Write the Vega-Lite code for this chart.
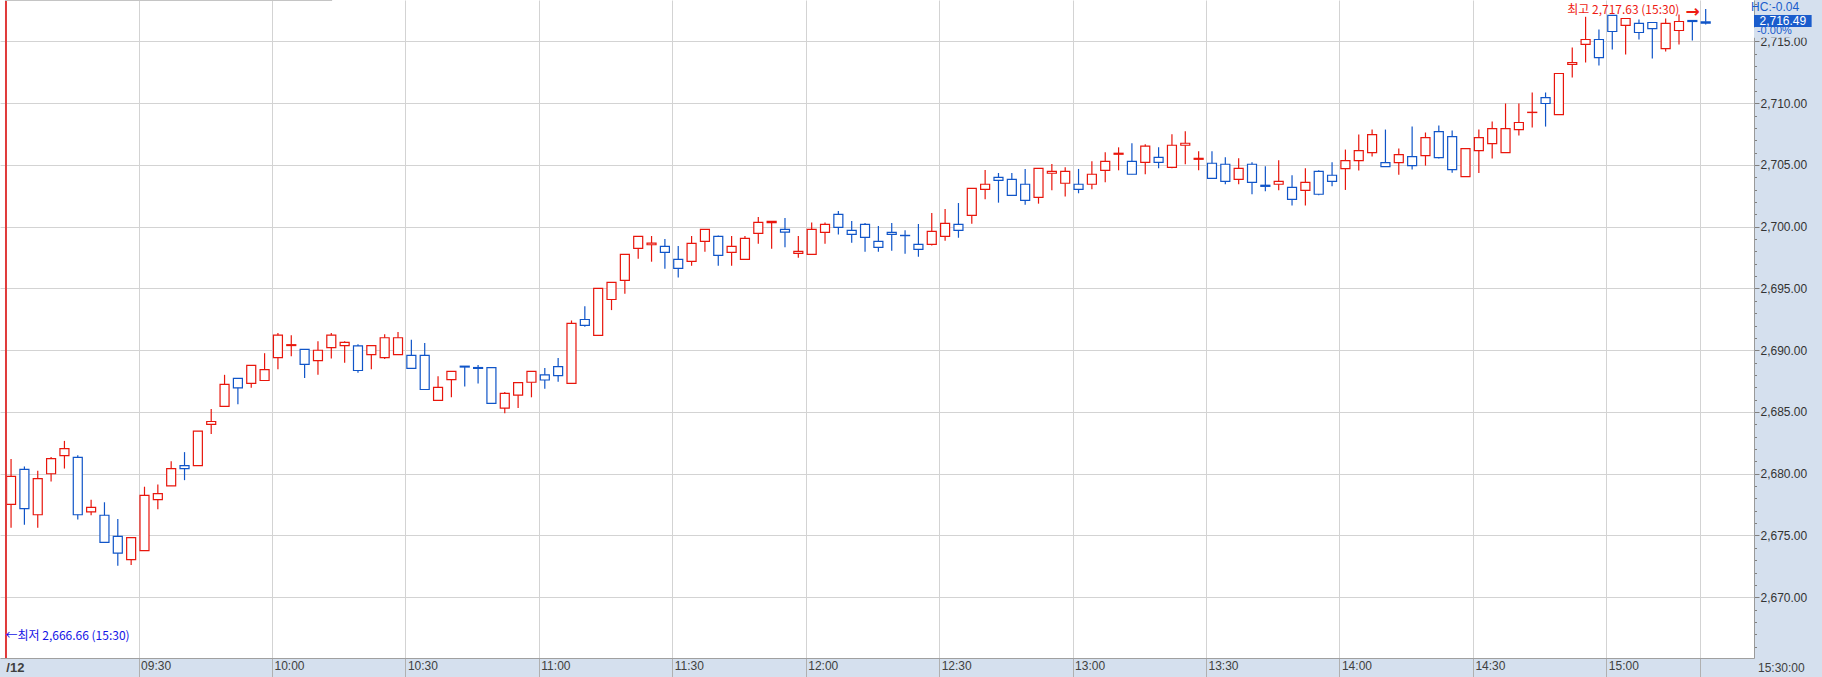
{
  "$schema": "https://vega.github.io/schema/vega-lite/v6.json",
  "width": 1754,
  "height": 658,
  "autosize": {"type": "none"},
  "padding": {"left": 0, "top": 0, "right": 68, "bottom": 19},
  "background": "#d5e0ee",
  "config": {
    "view": {"stroke": null, "fill": "#ffffff"},
    "axis": {"labelFont": "Liberation Sans", "labelColor": "#333333", "gridColor": "#d3d3d3", "title": null}
  },
  "datasets": {
    "candles": [
      {"s": 0, "o": 2677.52, "h": 2681.19, "l": 2675.63, "c": 2679.79},
      {"s": 1, "o": 2680.35, "h": 2680.59, "l": 2675.87, "c": 2677.17},
      {"s": 2, "o": 2676.68, "h": 2680.25, "l": 2675.63, "c": 2679.61},
      {"s": 3, "o": 2680.00, "h": 2681.36, "l": 2679.37, "c": 2681.22},
      {"s": 4, "o": 2681.47, "h": 2682.66, "l": 2680.42, "c": 2682.03},
      {"s": 5, "o": 2681.33, "h": 2681.50, "l": 2676.29, "c": 2676.68},
      {"s": 6, "o": 2676.92, "h": 2677.90, "l": 2676.64, "c": 2677.27},
      {"s": 7, "o": 2676.64, "h": 2677.69, "l": 2674.44, "c": 2674.44},
      {"s": 8, "o": 2674.93, "h": 2676.33, "l": 2672.55, "c": 2673.57},
      {"s": 9, "o": 2673.04, "h": 2674.82, "l": 2672.62, "c": 2674.82},
      {"s": 10, "o": 2673.78, "h": 2678.95, "l": 2673.78, "c": 2678.25},
      {"s": 11, "o": 2677.90, "h": 2679.13, "l": 2677.13, "c": 2678.39},
      {"s": 12, "o": 2679.02, "h": 2681.01, "l": 2679.02, "c": 2680.42},
      {"s": 13, "o": 2680.66, "h": 2681.75, "l": 2679.48, "c": 2680.42},
      {"s": 14, "o": 2680.66, "h": 2683.45, "l": 2680.66, "c": 2683.45},
      {"s": 15, "o": 2683.99, "h": 2685.25, "l": 2683.22, "c": 2684.23},
      {"s": 16, "o": 2685.46, "h": 2688.01, "l": 2685.46, "c": 2687.24},
      {"s": 17, "o": 2687.73, "h": 2687.73, "l": 2685.63, "c": 2686.96},
      {"s": 18, "o": 2687.31, "h": 2688.78, "l": 2686.96, "c": 2688.78},
      {"s": 19, "o": 2687.55, "h": 2689.76, "l": 2687.55, "c": 2688.43},
      {"s": 20, "o": 2689.41, "h": 2691.40, "l": 2688.46, "c": 2691.22},
      {"s": 21, "o": 2690.38, "h": 2691.22, "l": 2689.51, "c": 2690.45},
      {"s": 22, "o": 2690.07, "h": 2690.07, "l": 2687.76, "c": 2688.85},
      {"s": 23, "o": 2689.16, "h": 2690.73, "l": 2688.01, "c": 2690.00},
      {"s": 24, "o": 2690.21, "h": 2691.40, "l": 2689.34, "c": 2691.22},
      {"s": 25, "o": 2690.38, "h": 2690.73, "l": 2688.99, "c": 2690.63},
      {"s": 26, "o": 2690.35, "h": 2690.49, "l": 2688.18, "c": 2688.36},
      {"s": 27, "o": 2689.65, "h": 2690.38, "l": 2688.46, "c": 2690.38},
      {"s": 28, "o": 2689.41, "h": 2691.29, "l": 2689.30, "c": 2691.01},
      {"s": 29, "o": 2689.65, "h": 2691.47, "l": 2689.65, "c": 2691.01},
      {"s": 30, "o": 2689.58, "h": 2690.84, "l": 2688.53, "c": 2688.53},
      {"s": 31, "o": 2689.58, "h": 2690.59, "l": 2686.82, "c": 2686.82},
      {"s": 32, "o": 2685.94, "h": 2687.90, "l": 2685.94, "c": 2686.99},
      {"s": 33, "o": 2687.62, "h": 2688.29, "l": 2686.19, "c": 2688.29},
      {"s": 34, "o": 2688.71, "h": 2688.71, "l": 2687.06, "c": 2688.64},
      {"s": 35, "o": 2688.60, "h": 2688.81, "l": 2687.31, "c": 2688.53},
      {"s": 36, "o": 2688.60, "h": 2688.60, "l": 2685.70, "c": 2685.70},
      {"s": 37, "o": 2685.32, "h": 2686.61, "l": 2684.89, "c": 2686.50},
      {"s": 38, "o": 2686.36, "h": 2687.38, "l": 2685.32, "c": 2687.38},
      {"s": 39, "o": 2687.41, "h": 2688.29, "l": 2686.19, "c": 2688.29},
      {"s": 40, "o": 2688.01, "h": 2688.57, "l": 2686.89, "c": 2687.59},
      {"s": 41, "o": 2688.67, "h": 2689.37, "l": 2687.45, "c": 2687.94},
      {"s": 42, "o": 2687.31, "h": 2692.41, "l": 2687.31, "c": 2692.17},
      {"s": 43, "o": 2692.49, "h": 2693.57, "l": 2691.90, "c": 2692.01},
      {"s": 44, "o": 2691.20, "h": 2695.01, "l": 2691.20, "c": 2695.01},
      {"s": 45, "o": 2694.11, "h": 2695.49, "l": 2693.25, "c": 2695.49},
      {"s": 46, "o": 2695.65, "h": 2697.76, "l": 2694.57, "c": 2697.76},
      {"s": 47, "o": 2698.25, "h": 2699.22, "l": 2697.41, "c": 2699.22},
      {"s": 48, "o": 2698.54, "h": 2699.25, "l": 2697.17, "c": 2698.68},
      {"s": 49, "o": 2698.41, "h": 2699.00, "l": 2696.60, "c": 2697.92},
      {"s": 50, "o": 2697.36, "h": 2698.44, "l": 2695.90, "c": 2696.63},
      {"s": 51, "o": 2697.19, "h": 2699.25, "l": 2696.84, "c": 2698.65},
      {"s": 52, "o": 2698.81, "h": 2699.79, "l": 2697.98, "c": 2699.79},
      {"s": 53, "o": 2699.22, "h": 2699.30, "l": 2696.84, "c": 2697.68},
      {"s": 54, "o": 2697.92, "h": 2699.25, "l": 2696.84, "c": 2698.41},
      {"s": 55, "o": 2697.36, "h": 2699.25, "l": 2697.36, "c": 2699.06},
      {"s": 56, "o": 2699.46, "h": 2700.79, "l": 2698.63, "c": 2700.35},
      {"s": 57, "o": 2700.33, "h": 2700.43, "l": 2698.22, "c": 2700.43},
      {"s": 58, "o": 2699.79, "h": 2700.70, "l": 2698.33, "c": 2699.57},
      {"s": 59, "o": 2697.84, "h": 2699.25, "l": 2697.49, "c": 2698.00},
      {"s": 60, "o": 2697.76, "h": 2700.35, "l": 2697.76, "c": 2699.79},
      {"s": 61, "o": 2699.54, "h": 2700.35, "l": 2698.63, "c": 2700.19},
      {"s": 62, "o": 2701.00, "h": 2701.27, "l": 2699.38, "c": 2699.95},
      {"s": 63, "o": 2699.71, "h": 2700.46, "l": 2698.71, "c": 2699.38},
      {"s": 64, "o": 2700.19, "h": 2700.30, "l": 2697.98, "c": 2699.14},
      {"s": 65, "o": 2698.82, "h": 2700.06, "l": 2697.98, "c": 2698.33},
      {"s": 66, "o": 2699.55, "h": 2700.30, "l": 2698.06, "c": 2699.38},
      {"s": 67, "o": 2699.30, "h": 2699.71, "l": 2697.82, "c": 2699.28},
      {"s": 68, "o": 2698.57, "h": 2700.22, "l": 2697.57, "c": 2698.17},
      {"s": 69, "o": 2698.57, "h": 2701.11, "l": 2698.49, "c": 2699.63},
      {"s": 70, "o": 2699.22, "h": 2701.44, "l": 2698.87, "c": 2700.28},
      {"s": 71, "o": 2700.19, "h": 2701.92, "l": 2699.11, "c": 2699.71},
      {"s": 72, "o": 2700.92, "h": 2703.11, "l": 2700.25, "c": 2703.11},
      {"s": 73, "o": 2703.03, "h": 2704.60, "l": 2702.22, "c": 2703.44},
      {"s": 74, "o": 2704.00, "h": 2704.35, "l": 2701.95, "c": 2703.76},
      {"s": 75, "o": 2703.84, "h": 2704.35, "l": 2702.54, "c": 2702.54},
      {"s": 76, "o": 2703.44, "h": 2704.68, "l": 2701.79, "c": 2702.14},
      {"s": 77, "o": 2702.38, "h": 2704.73, "l": 2701.87, "c": 2704.73},
      {"s": 78, "o": 2704.33, "h": 2705.08, "l": 2702.95, "c": 2704.49},
      {"s": 79, "o": 2703.52, "h": 2704.81, "l": 2702.44, "c": 2704.49},
      {"s": 80, "o": 2703.44, "h": 2704.68, "l": 2702.71, "c": 2703.03},
      {"s": 81, "o": 2703.44, "h": 2705.30, "l": 2703.03, "c": 2704.25},
      {"s": 82, "o": 2704.57, "h": 2706.03, "l": 2703.60, "c": 2705.30},
      {"s": 83, "o": 2705.87, "h": 2706.43, "l": 2704.57, "c": 2705.95},
      {"s": 84, "o": 2705.30, "h": 2706.76, "l": 2704.25, "c": 2704.25},
      {"s": 85, "o": 2705.22, "h": 2706.68, "l": 2704.25, "c": 2706.52},
      {"s": 86, "o": 2705.62, "h": 2706.43, "l": 2704.73, "c": 2705.22},
      {"s": 87, "o": 2704.81, "h": 2707.49, "l": 2704.73, "c": 2706.60},
      {"s": 88, "o": 2706.60, "h": 2707.73, "l": 2705.06, "c": 2706.76},
      {"s": 89, "o": 2705.46, "h": 2706.11, "l": 2704.57, "c": 2705.54},
      {"s": 90, "o": 2705.14, "h": 2706.11, "l": 2703.92, "c": 2703.92},
      {"s": 91, "o": 2705.06, "h": 2705.62, "l": 2703.44, "c": 2703.68},
      {"s": 92, "o": 2703.84, "h": 2705.54, "l": 2703.44, "c": 2704.73},
      {"s": 93, "o": 2705.06, "h": 2705.22, "l": 2702.63, "c": 2703.60},
      {"s": 94, "o": 2703.36, "h": 2704.89, "l": 2702.87, "c": 2703.27},
      {"s": 95, "o": 2703.44, "h": 2705.38, "l": 2702.95, "c": 2703.68},
      {"s": 96, "o": 2703.19, "h": 2704.17, "l": 2701.73, "c": 2702.22},
      {"s": 97, "o": 2702.95, "h": 2704.73, "l": 2701.73, "c": 2703.60},
      {"s": 98, "o": 2704.49, "h": 2704.57, "l": 2702.54, "c": 2702.63},
      {"s": 99, "o": 2704.17, "h": 2705.22, "l": 2703.27, "c": 2703.68},
      {"s": 100, "o": 2704.71, "h": 2706.25, "l": 2702.98, "c": 2705.36},
      {"s": 101, "o": 2705.36, "h": 2707.46, "l": 2704.55, "c": 2706.17},
      {"s": 102, "o": 2706.00, "h": 2707.87, "l": 2705.68, "c": 2707.46},
      {"s": 103, "o": 2705.19, "h": 2707.87, "l": 2704.87, "c": 2704.87},
      {"s": 104, "o": 2705.19, "h": 2706.33, "l": 2704.22, "c": 2705.84},
      {"s": 105, "o": 2705.68, "h": 2708.11, "l": 2704.63, "c": 2704.95},
      {"s": 106, "o": 2705.76, "h": 2707.63, "l": 2704.95, "c": 2707.22},
      {"s": 107, "o": 2707.71, "h": 2708.19, "l": 2705.52, "c": 2705.60},
      {"s": 108, "o": 2707.30, "h": 2707.79, "l": 2704.38, "c": 2704.63},
      {"s": 109, "o": 2704.06, "h": 2706.33, "l": 2704.06, "c": 2706.33},
      {"s": 110, "o": 2706.17, "h": 2707.87, "l": 2704.36, "c": 2707.22},
      {"s": 111, "o": 2706.73, "h": 2708.52, "l": 2705.52, "c": 2707.95},
      {"s": 112, "o": 2706.00, "h": 2709.98, "l": 2706.00, "c": 2707.95},
      {"s": 113, "o": 2707.87, "h": 2709.98, "l": 2707.38, "c": 2708.44},
      {"s": 114, "o": 2709.25, "h": 2710.87, "l": 2708.03, "c": 2709.27},
      {"s": 115, "o": 2710.46, "h": 2710.87, "l": 2708.11, "c": 2709.98},
      {"s": 116, "o": 2709.08, "h": 2712.41, "l": 2709.08, "c": 2712.41},
      {"s": 117, "o": 2713.14, "h": 2714.51, "l": 2712.08, "c": 2713.30},
      {"s": 118, "o": 2714.76, "h": 2717.00, "l": 2713.30, "c": 2715.16},
      {"s": 119, "o": 2715.16, "h": 2715.97, "l": 2713.06, "c": 2713.70},
      {"s": 120, "o": 2717.11, "h": 2717.11, "l": 2714.35, "c": 2715.81},
      {"s": 121, "o": 2716.30, "h": 2716.86, "l": 2713.95, "c": 2716.86},
      {"s": 122, "o": 2716.46, "h": 2716.78, "l": 2715.16, "c": 2715.73},
      {"s": 123, "o": 2716.54, "h": 2716.54, "l": 2713.62, "c": 2716.05},
      {"s": 124, "o": 2714.43, "h": 2716.86, "l": 2714.19, "c": 2716.46},
      {"s": 125, "o": 2715.89, "h": 2717.19, "l": 2714.76, "c": 2716.62},
      {"s": 126, "o": 2716.70, "h": 2716.70, "l": 2715.08, "c": 2716.62},
      {"s": 127, "o": 2716.59, "h": 2717.63, "l": 2716.38, "c": 2716.49}
    ]
  },
  "layer": [
    {
      "data": {"name": "candles"},
      "mark": {"type": "rule", "strokeWidth": 1.2},
      "encoding": {
        "x": {
          "field": "s",
          "type": "quantitative",
          "scale": {"domain": [-0.454, 130.246], "nice": false, "zero": false},
          "axis": {
            "title": null,
            "values": [9.553, 19.553, 29.553, 39.553, 49.553, 59.553, 69.553, 79.553, 89.553, 99.553, 109.553, 119.553, 126.553],
            "tickCount": 200,
            "labelExpr": "datum.value > 120 ? '' : timeFormat(datetime(2024, 0, 12, 9, round(datum.value + 0.447) * 3), '%H:%M')",
            "grid": true,
            "gridColor": "#d3d3d3",
            "labelAlign": "left",
            "labelBaseline": "top",
            "labelOffset": 2,
            "labelPadding": -17,
            "labelFontSize": 12,
            "labelColor": "#404040",
            "labelOverlap": false,
            "labelFlush": false,
            "tickSize": 19,
            "tickColor": "#b0b0b0",
            "domainColor": "#a0a0a0"
          }
        },
        "y": {
          "field": "l",
          "type": "quantitative",
          "scale": {"domain": [2665.08, 2718.36], "nice": false, "zero": false},
          "axis": {
            "title": null,
            "orient": "right",
            "values": [2666, 2667, 2668, 2669, 2670, 2671, 2672, 2673, 2674, 2675, 2676, 2677, 2678, 2679, 2680, 2681, 2682, 2683, 2684, 2685, 2686, 2687, 2688, 2689, 2690, 2691, 2692, 2693, 2694, 2695, 2696, 2697, 2698, 2699, 2700, 2701, 2702, 2703, 2704, 2705, 2706, 2707, 2708, 2709, 2710, 2711, 2712, 2713, 2714, 2715, 2716, 2717, 2718],
            "tickCount": 200,
            "labelExpr": "datum.value % 5 == 0 ? format(datum.value, ',.2f') : ''",
            "grid": true,
            "gridColor": "#d3d3d3",
            "gridOpacity": {"condition": {"test": "datum.value % 5 == 0", "value": 1}, "value": 0},
            "tickSize": {"condition": {"test": "datum.value % 5 == 0", "value": 5}, "value": 2.5},
            "tickColor": "#808080",
            "labelPadding": 1,
            "labelFontSize": 12,
            "labelColor": "#333333",
            "labelOverlap": false,
            "labelFlush": false,
            "domainColor": "#9a9a9a"
          }
        },
        "y2": {"field": "h"},
        "color": {"condition": {"test": "datum.c >= datum.o", "value": "#e8160c"}, "value": "#1055c8"}
      }
    },
    {
      "data": {"name": "candles"},
      "mark": {"type": "bar", "orient": "vertical", "size": 9, "fill": "#ffffff", "strokeWidth": 1.2},
      "encoding": {
        "x": {"field": "s", "type": "quantitative"},
        "y": {"field": "o", "type": "quantitative"},
        "y2": {"field": "c"},
        "stroke": {"condition": {"test": "datum.c >= datum.o", "value": "#e8160c"}, "value": "#1055c8"}
      }
    },
    {
      "data": {"values": [{}]},
      "mark": {"type": "rule", "color": "#e03a3a", "strokeWidth": 2},
      "encoding": {"x": {"datum": -0.38}}
    },
    {
      "data": {"values": [{}]},
      "mark": {"type": "rule", "color": "#c4c4c4", "strokeWidth": 2},
      "encoding": {"x": {"datum": -0.454}, "x2": {"datum": 24.06}, "y": {"datum": 2718.36}}
    },
    {
      "data": {"values": [{}]},
      "mark": {"type": "text", "font": "Noto Sans CJK KR", "fontSize": 12, "color": "#ee1c14", "align": "right", "baseline": "middle"},
      "encoding": {"x": {"datum": 125.03}, "y": {"datum": 2717.52}, "text": {"value": "최고 2,717.63 (15:30)"}}
    },
    {
      "data": {"values": [{}]},
      "mark": {"type": "text", "font": "DejaVu Sans", "fontSize": 17, "fontWeight": "bold", "color": "#ee1c14", "align": "left", "baseline": "middle"},
      "encoding": {"x": {"datum": 125.48}, "y": {"datum": 2717.36}, "text": {"value": "→"}}
    },
    {
      "data": {"values": [{}]},
      "mark": {"type": "text", "font": "Noto Sans CJK KR", "fontSize": 12, "color": "#1414e6", "align": "left", "baseline": "middle"},
      "encoding": {"x": {"datum": -0.42}, "y": {"datum": 2666.86}, "text": {"value": "←최저 2,666.66 (15:30)"}}
    },
    {
      "data": {"values": [{}]},
      "mark": {"type": "text", "font": "Liberation Sans", "fontSize": 13, "fontWeight": "bold", "color": "#404040", "align": "right", "baseline": "middle"},
      "encoding": {"x": {"datum": 1.0}, "y": {"datum": 2664.27}, "text": {"value": "/12"}}
    },
    {
      "data": {"values": [{}]},
      "mark": {"type": "text", "font": "Liberation Sans", "fontSize": 12, "color": "#404040", "align": "left", "baseline": "middle"},
      "encoding": {"x": {"datum": 130.92}, "y": {"datum": 2664.27}, "text": {"value": "15:30:00"}}
    },
    {
      "data": {"values": [{}]},
      "mark": {"type": "rect", "color": "#d5e0ee"},
      "encoding": {"x": {"datum": 130.62}, "x2": {"datum": 134.94}, "y": {"datum": 2716.13}, "y2": {"datum": 2715.3}}
    },
    {
      "data": {"values": [{}]},
      "mark": {"type": "rect", "color": "#1a5ccc"},
      "encoding": {"x": {"datum": 130.62}, "x2": {"datum": 134.94}, "y": {"datum": 2717.15}, "y2": {"datum": 2716.17}}
    },
    {
      "data": {"values": [{}]},
      "mark": {"type": "text", "font": "Liberation Sans", "fontSize": 12, "color": "#ffffff", "align": "center", "baseline": "middle"},
      "encoding": {"x": {"datum": 132.78}, "y": {"datum": 2716.66}, "text": {"value": "2,716.49"}}
    },
    {
      "data": {"values": [{}]},
      "mark": {"type": "text", "font": "Liberation Sans", "fontSize": 12, "color": "#1a5ccc", "align": "left", "baseline": "middle"},
      "encoding": {"x": {"datum": 130.4}, "y": {"datum": 2717.83}, "text": {"value": "HC:-0.04"}}
    },
    {
      "data": {"values": [{}]},
      "mark": {"type": "text", "font": "Liberation Sans", "fontSize": 11, "color": "#1a5ccc", "align": "left", "baseline": "middle"},
      "encoding": {"x": {"datum": 130.84}, "y": {"datum": 2715.82}, "text": {"value": "-0.00%"}}
    }
  ]
}
